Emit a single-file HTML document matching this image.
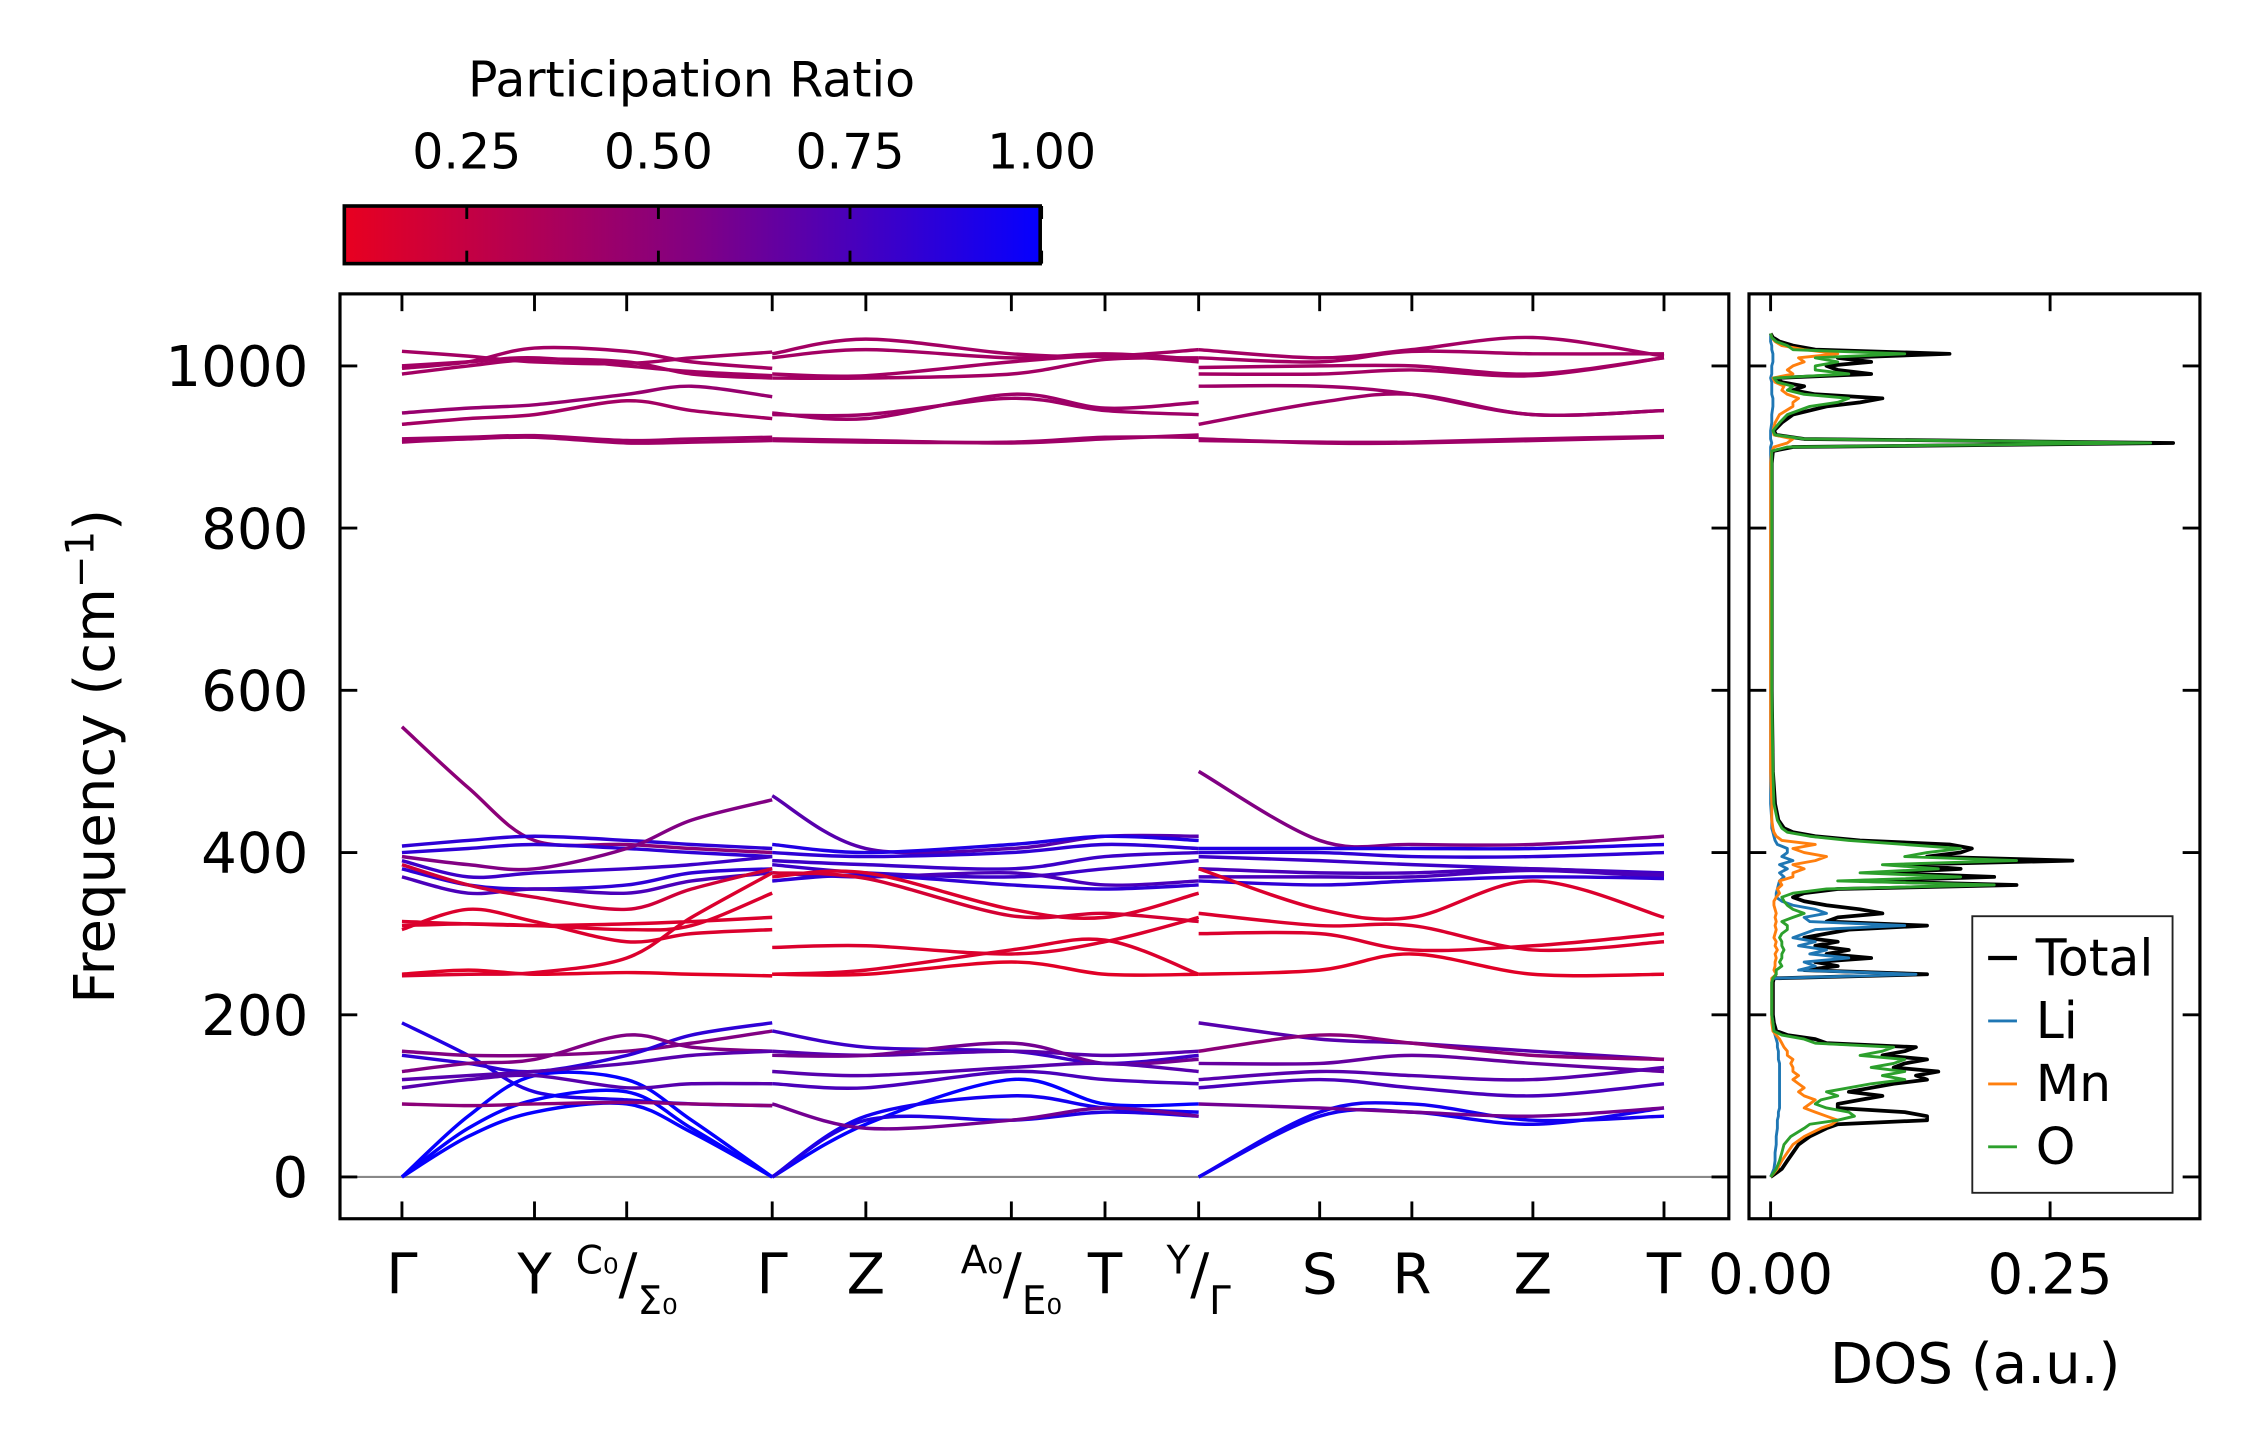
<!DOCTYPE html>
<html><head><meta charset="utf-8"><style>
html,body{margin:0;padding:0;background:#fff}
svg{display:block;font-family:"DejaVu Sans","Liberation Sans",sans-serif}
</style></head><body>
<svg id="fig" width="2259" height="1455" viewBox="0 0 1568 1010" preserveAspectRatio="none" xmlns="http://www.w3.org/2000/svg">
<defs>
<linearGradient id="cbg" x1="0" x2="1" y1="0" y2="0">
<stop offset="0" stop-color="rgb(232,0,32)"/><stop offset="0.5" stop-color="rgb(130,0,130)"/><stop offset="1" stop-color="rgb(5,0,255)"/>
</linearGradient>
<clipPath id="mainclip"><rect x="236" y="204" width="964" height="642"/></clipPath>
<clipPath id="dosclip"><rect x="1214" y="204" width="313" height="642"/></clipPath>
</defs>
<g id="colorbar">
<text x="480" y="67" font-size="34" text-anchor="middle">Participation Ratio</text>
<rect x="239" y="143" width="483" height="40" fill="url(#cbg)" stroke="#000" stroke-width="2.5"/>
</g>
<g id="main"></g>
<g id="dos"></g>
</svg>
<script>
// ---------- Band structure data ----------
const seg1Pos = [279, 325, 371, 435, 480, 536];
const seg2Pos = [536, 601, 702, 767, 832];
const seg3Pos = [832, 916, 980, 1064, 1155];
const tickLabels = ["Γ","Y","C0/Σ0","Γ","Z","A0/E0","T","Y/Γ","S","R","Z","T"];
const tickPos = [279,371,435,536,601,702,767,832,916,980,1064,1155];
const yTicks = [0,200,400,600,800,1000];
const cbTicks = [0.25,0.50,0.75,1.00];

const seg1Bands = [
[1018,1012,1005,1003,1010,1017],[997,1005,1022,1018,1005,997],[990,1000,1008,1005,990,985],[1000,1005,1010,1000,993,988],
[942,948,952,965,975,962],[928,935,940,957,945,935],[910,912,914,908,910,912],[906,910,912,905,906,908],
[555,480,415,410,405,400],[408,415,420,415,410,405],[400,405,410,405,400,395],[395,385,380,405,440,465],
[390,370,375,380,385,395],[380,360,355,360,375,380],[370,350,355,350,365,375],[385,360,345,330,355,380],
[315,312,310,312,315,320],[305,330,315,290,300,305],[310,312,310,305,310,350],[250,255,250,252,250,248],
[248,250,252,270,320,375],[190,150,105,95,90,88],[0,75,125,120,70,0],[0,60,95,105,60,0],[0,50,80,90,55,0],
[155,150,150,155,165,180],[150,140,130,150,175,190],[130,140,145,175,160,155],[120,125,130,140,150,155],
[110,120,125,110,115,115],[90,88,90,92,90,88]];
const seg1PR = [0.4,0.4,0.4,0.4,0.45,0.4,0.42,0.42,0.5,0.85,0.85,0.55,0.8,0.85,0.75,0.2,0.15,0.15,0.15,0.12,0.15,0.9,1,1,1,0.55,0.85,0.55,0.7,0.7,0.5];

const seg2Bands = [
[1015,1033,1015,1012,1020],[1010,1020,1010,1015,1008],[990,988,1005,1012,1005],[985,985,990,1008,1010],
[942,935,965,948,955],[940,940,960,945,940],[910,908,905,910,915],[908,906,906,912,912],
[470,405,405,420,420],[410,400,410,420,415],[400,395,400,410,405],[390,385,380,395,400],
[385,375,370,380,390],[375,370,375,360,365],[365,372,360,355,360],[370,375,330,320,350],
[375,368,322,325,315],[283,285,275,290,320],[250,255,280,292,250],[250,250,265,250,250],
[180,160,155,140,150],[155,150,155,150,155],[150,150,165,140,145],[130,125,135,140,130],
[115,110,130,120,115],[0,65,120,90,90],[0,75,100,85,80],[0,70,70,80,75],[90,60,70,85,75]];
const seg2PR = [0.4,0.4,0.4,0.4,0.42,0.42,0.42,0.42,0.7,0.9,0.85,0.8,0.8,0.75,0.85,0.15,0.18,0.15,0.15,0.12,0.8,0.7,0.6,0.7,0.75,1,0.95,0.9,0.6];

const seg3Bands = [
[1020,1010,1020,1035,1012],[1010,1005,1018,1015,1015],[998,1000,1000,990,1010],[990,990,995,988,1010],
[975,975,965,940,945],[928,955,965,940,945],[910,905,905,908,912],[908,906,906,910,913],
[500,415,410,410,420],[405,405,405,405,410],[400,400,395,395,400],[395,390,385,380,375],
[380,375,375,380,372],[370,370,370,378,370],[365,360,365,370,368],[380,330,320,365,320],
[325,310,310,280,290],[300,300,280,285,300],[250,255,275,250,250],
[190,170,165,155,145],[155,175,165,150,145],[140,140,150,140,130],[120,130,125,120,135],
[110,120,110,100,115],[0,75,80,65,85],[0,80,90,70,75],[90,85,80,75,85]];
const seg3PR = [0.4,0.4,0.4,0.4,0.42,0.42,0.42,0.42,0.55,0.9,0.85,0.8,0.75,0.75,0.85,0.15,0.15,0.15,0.12,0.7,0.5,0.65,0.7,0.75,0.95,0.95,0.6];

// ---------- DOS data ----------
const dosFreq = [0,10,20,30,40,50,60,65,70,75,80,85,90,95,100,105,110,115,120,125,130,135,140,145,150,155,160,165,170,175,180,190,200,240,245,250,255,260,265,270,275,280,285,290,295,300,305,310,315,320,325,330,335,340,345,350,355,360,365,370,375,380,385,390,395,400,405,410,415,420,425,430,440,460,500,600,880,895,900,905,910,915,920,930,940,950,955,960,965,970,975,980,985,990,995,1000,1005,1010,1015,1020,1025,1030,1035,1040];
const dosTotal = [0,.01,.015,.02,.025,.035,.05,.06,.14,.14,.12,.06,.06,.08,.10,.07,.09,.11,.14,.13,.15,.11,.12,.14,.10,.12,.13,.05,.04,.015,.005,.003,.002,.002,.003,.14,.03,.06,.04,.09,.05,.07,.04,.06,.03,.05,.07,.14,.05,.06,.10,.08,.05,.03,.02,.03,.06,.22,.08,.20,.10,.17,.12,.27,.14,.17,.18,.16,.08,.04,.02,.012,.007,.004,.002,.001,.001,.002,.02,.36,.03,.005,.003,.01,.02,.05,.08,.10,.04,.02,.03,.01,.005,.09,.06,.05,.09,.06,.16,.04,.02,.008,.002,0];
const dosLi = [0,.003,.004,.004,.005,.005,.006,.006,.006,.007,.007,.008,.008,.008,.008,.008,.008,.008,.008,.008,.008,.008,.008,.007,.007,.007,.006,.006,.005,.004,.003,.002,.001,.001,.002,.13,.025,.04,.03,.07,.035,.05,.025,.04,.02,.03,.04,.12,.035,.03,.05,.04,.02,.01,.005,.005,.006,.007,.008,.012,.008,.015,.008,.02,.01,.015,.015,.006,.004,.003,.002,.001,.001,0,0,0,0,0,0,.001,0,0,0,.001,.001,.002,.002,.002,.001,.001,.001,.001,0,.001,.001,.001,.002,.002,.002,.001,.001,0,0,0];
const dosMn = [0,.006,.01,.015,.02,.03,.045,.055,.06,.05,.04,.03,.035,.04,.03,.025,.03,.025,.02,.025,.02,.02,.018,.02,.015,.015,.012,.01,.008,.005,.002,.001,.001,.001,.001,.005,.003,.004,.004,.005,.004,.006,.004,.005,.003,.004,.005,.004,.005,.004,.005,.004,.003,.003,.005,.008,.006,.01,.008,.02,.02,.03,.02,.04,.05,.03,.02,.04,.01,.005,.003,.002,.001,.001,0,0,0,.001,.003,.015,.02,.003,.002,.004,.008,.02,.02,.025,.015,.01,.012,.004,.002,.02,.015,.02,.03,.025,.06,.03,.01,.004,.001,0];
const dosO = [0,.005,.008,.01,.012,.018,.03,.035,.06,.075,.07,.05,.04,.045,.06,.05,.07,.09,.12,.10,.12,.09,.11,.12,.08,.10,.11,.04,.03,.01,.003,.002,.001,.001,.002,.005,.005,.01,.008,.01,.01,.012,.01,.01,.008,.01,.015,.015,.01,.02,.03,.02,.015,.012,.01,.02,.05,.20,.06,.17,.08,.15,.10,.22,.12,.14,.17,.12,.07,.035,.015,.01,.006,.003,.002,.001,.001,.001,.015,.34,.03,.004,.002,.008,.015,.035,.06,.07,.03,.015,.02,.006,.003,.07,.04,.04,.06,.04,.12,.02,.015,.005,.001,0];
const dosXTicks = [0.00, 0.25];
const legendNames = ["Total","Li","Mn","O"];

// ---------- axes ----------
const NS = "http://www.w3.org/2000/svg";
const AX = {l:236, r:1200, t:204, b:846};
const DX = {l:1214, r:1527};
const yMin = -51.5, yMax = 1088.8;
const yScale = f => AX.b - (f - yMin) / (yMax - yMin) * (AX.b - AX.t);
const dosScale = v => 1229 + v * 776;
const cbScale = v => 324 + (v - 0.25) * 532;
const FS = 39;
function prColor(p){
  const t = Math.max(0, Math.min(1, (p - 0.09) / 0.91));
  let r,g,b;
  if (t < 0.5){ const u=t/0.5; r=232+(130-232)*u; g=0; b=32+(130-32)*u; }
  else { const u=(t-0.5)/0.5; r=130+(5-130)*u; g=0; b=130+(255-130)*u; }
  return `rgb(${Math.round(r)},${Math.round(g)},${Math.round(b)})`;
}
function mk(tag, attrs, parent){
  const el = document.createElementNS(NS, tag);
  for (const k in attrs) el.setAttribute(k, attrs[k]);
  parent.appendChild(el); return el;
}
function smoothPath(xs, ys){
  let d = `M${xs[0]},${ys[0]}`;
  for (let i=0;i<xs.length-1;i++){
    const x0=xs[Math.max(0,i-1)], y0=ys[Math.max(0,i-1)];
    const x1=xs[i], y1=ys[i], x2=xs[i+1], y2=ys[i+1];
    const x3=xs[Math.min(xs.length-1,i+2)], y3=ys[Math.min(xs.length-1,i+2)];
    const c1x=x1+(x2-x0)/6, c1y=y1+(y2-y0)/6, c2x=x2-(x3-x1)/6, c2y=y2-(y3-y1)/6;
    d += ` C${c1x.toFixed(1)},${c1y.toFixed(1)} ${c2x.toFixed(1)},${c2y.toFixed(1)} ${x2},${y2.toFixed(1)}`;
  }
  return d;
}
const main = document.getElementById('main');
const dos = document.getElementById('dos');
const cb = document.getElementById('colorbar');

cbTicks.forEach(v=>{
  const x = cbScale(v);
  const t = mk('line',{x1:x,x2:x,y1:143,y2:152,stroke:'#000','stroke-width':2},cb);
  
  
  const t2 = mk('line',{x1:x,x2:x,y1:174,y2:183,stroke:'#000','stroke-width':2},cb);
  
  
  const lb = mk('text',{x:x,y:117,'font-size':34,'text-anchor':'middle'},cb);
  lb.textContent = v.toFixed(2);
  
  
});

const zl = mk('line',{x1:AX.l,x2:AX.r,y1:yScale(0),y2:yScale(0),stroke:'#888','stroke-width':1.5},main);



const bandG = mk('g',{'clip-path':'url(#mainclip)'},main);


[[seg1Pos,seg1Bands,seg1PR],[seg2Pos,seg2Bands,seg2PR],[seg3Pos,seg3Bands,seg3PR]].forEach(([xs,bands,prs])=>{
  bands.forEach((b,bi)=>{
    const p = mk('path',{d:smoothPath(xs,b.map(yScale)),fill:'none',stroke:prColor(prs[bi]),'stroke-width':2.4},bandG);
    
    
  });
});

const fr = mk('rect',{x:AX.l,y:AX.t,width:AX.r-AX.l,height:AX.b-AX.t,fill:'none',stroke:'#000','stroke-width':2.2},main);



yTicks.forEach(v=>{
  const y=yScale(v);
  const a=mk('line',{x1:AX.l,x2:AX.l+12,y1:y,y2:y,stroke:'#000','stroke-width':2},main);
  
  
  const b=mk('line',{x1:AX.r-12,x2:AX.r,y1:y,y2:y,stroke:'#000','stroke-width':2},main);
  
  
  const c=mk('line',{x1:DX.l,x2:DX.l+12,y1:y,y2:y,stroke:'#000','stroke-width':2},dos);
  
  
  const d=mk('line',{x1:DX.r-12,x2:DX.r,y1:y,y2:y,stroke:'#000','stroke-width':2},dos);
  
  
  const t=mk('text',{x:214,y:y+14,'font-size':FS,'text-anchor':'end'},main);
  t.textContent=String(v);
  
  
});

tickPos.forEach((x,i)=>{
  const a=mk('line',{x1:x,x2:x,y1:AX.b-12,y2:AX.b,stroke:'#000','stroke-width':2},main);
  
  
  const b=mk('line',{x1:x,x2:x,y1:AX.t,y2:AX.t+12,stroke:'#000','stroke-width':2},main);
  
  
  const lab = tickLabels[i];
  const t=mk('text',{x:x,y:898,'font-size':FS,'text-anchor':'middle'},main);
  
  
  if (lab.includes('/')){
    const [p,q]=lab.split('/');
    const fmt = s => s.replace('0','₀');
    const s1=mk('tspan',{'font-size':27,dy:-14},t); s1.textContent=fmt(p);
    const s2=mk('tspan',{'font-size':FS,dy:14},t); s2.textContent='/';
    const s3=mk('tspan',{'font-size':27,dy:14},t); s3.textContent=fmt(q);
  } else t.textContent=lab;
});

const yt=mk('text',{x:0,y:0,'font-size':FS,'text-anchor':'middle',transform:'translate(79,525) rotate(-90)'},main);


yt.textContent='Frequency (cm';
const sup=mk('tspan',{'font-size':27,dy:-14},yt); sup.textContent='−1';
const cl=mk('tspan',{dy:14},yt); cl.textContent=')';

const dosG = mk('g',{'clip-path':'url(#dosclip)'},dos);


const series=[[dosTotal,'#000',2.6,'dos-total'],[dosLi,'#1f77b4',2,'dos-li'],[dosMn,'#ff7f0e',2,'dos-mn'],[dosO,'#2ca02c',2,'dos-o']];
series.forEach(([vals,col,w,name])=>{
  const pts = dosFreq.map((f,i)=>`${dosScale(vals[i]).toFixed(1)},${yScale(f).toFixed(1)}`).join(' ');
  const pl=mk('polyline',{points:pts,fill:'none',stroke:col,'stroke-width':w,'stroke-linejoin':'round'},dosG);
  
  
});
const dfr=mk('rect',{x:DX.l,y:AX.t,width:DX.r-DX.l,height:AX.b-AX.t,fill:'none',stroke:'#000','stroke-width':2.2},dos);


dosXTicks.forEach(v=>{
  const x=dosScale(v);
  const a=mk('line',{x1:x,x2:x,y1:AX.b-12,y2:AX.b,stroke:'#000','stroke-width':2},dos);
  
  
  const b=mk('line',{x1:x,x2:x,y1:AX.t,y2:AX.t+12,stroke:'#000','stroke-width':2},dos);
  
  
  const t=mk('text',{x:x,y:898,'font-size':FS,'text-anchor':'middle'},dos);
  t.textContent=v.toFixed(2);
  
  
});
const dt=mk('text',{x:1371,y:960,'font-size':FS,'text-anchor':'middle'},dos);
dt.textContent='DOS (a.u.)';



const lg=mk('g',{},dos);


const lb=mk('rect',{x:1369,y:636,width:139,height:192,fill:'#fff',stroke:'#222','stroke-width':1.3},lg);


const legCols=['#000','#1f77b4','#ff7f0e','#2ca02c'];
legendNames.forEach((n,i)=>{
  const y=665+i*43.7;
  const ln=mk('line',{x1:1380,x2:1400,y1:y,y2:y,stroke:legCols[i],'stroke-width':i==0?3:2},lg);
  
  
  const t=mk('text',{x:1413,y:y+12,'font-size':35},lg);
  t.textContent=n;
  
  
});
</script>
</body></html>
